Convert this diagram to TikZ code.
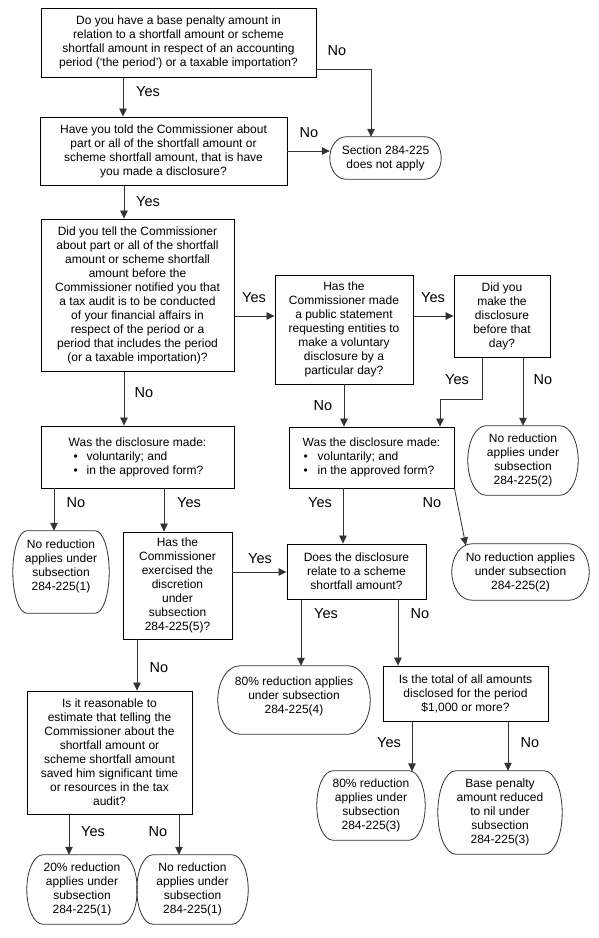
\documentclass[tikz,border=0pt]{standalone}
\usepackage{fontspec}
\setmainfont{Liberation Sans}
\usetikzlibrary{arrows.meta,calc}
\newcommand\termdraw[2]{%
  \draw[termline] let \p1=(#1.north west), \p2=(#1.south east), \n1={(\y1-\y2)/2} in
    (\x1+#2pt,\y1) -- (\x2-#2pt,\y1)
    arc[start angle=90,end angle=-90,x radius=#2pt,y radius=\n1]
    -- (\x1+#2pt,\y2)
    arc[start angle=270,end angle=90,x radius=#2pt,y radius=\n1] -- cycle;}
\begin{document}
\begin{tikzpicture}[x=1pt,y=-1pt,
  box/.style={draw=black, line width=0.9pt, inner sep=0pt, align=center, font=\fontsize{12}{14}\selectfont},
  term/.style={inner sep=0pt, align=center, font=\fontsize{12}{14}\selectfont},
  termline/.style={draw=black!80, line width=0.8pt},
  conn/.style={draw=black!80, line width=0.8pt, -{Triangle[length=8pt,width=7.5pt]}},
  lab/.style={inner sep=0pt, font=\fontsize{14.5}{17}\selectfont},
  wh/.style 2 args={minimum width=#1pt, minimum height=#2pt}]
\fill[white] (0,0) rectangle (599,938);
\useasboundingbox (0,0) rectangle (599,938);

% decision boxes
\node[box, wh={275}{69}] (A) at (178.5,42.5) {Do you have a base penalty amount in\\relation to a shortfall amount or scheme\\shortfall amount in respect of an accounting\\period (‘the period’) or a taxable importation?};
\node[box, wh={247}{68}] (B) at (163.5,151) {Have you told the Commissioner about\\part or all of the shortfall amount or\\scheme shortfall amount, that is have\\you made a disclosure?};
\node[box, wh={193}{152}] (C) at (137.5,295) {Did you tell the Commissioner\\about part or all of the shortfall\\amount or scheme shortfall\\amount before the\\Commissioner notified you that\\a tax audit is to be conducted\\of your financial affairs in\\respect of the period or a\\period that includes the period\\(or a taxable importation)?};
\node[box, wh={138}{109}] (D) at (344,329.5) {Has the\\Commissioner made\\a public statement\\requesting entities to\\make a voluntary\\disclosure by a\\particular day?};
\node[box, wh={96}{82}] (E) at (502,316) {Did you\\make the\\disclosure\\before that\\day?};
\node[box, wh={193}{62}, align=left] (F) at (137.5,457) {Was the disclosure made:\\\hspace*{5pt}\makebox[13pt][l]{\textbullet}voluntarily; and\\\hspace*{5pt}\makebox[13pt][l]{\textbullet}in the approved form?};
\node[box, wh={165}{61}, align=left] (G) at (371.5,457.5) {Was the disclosure made:\\\hspace*{1pt}\makebox[14pt][l]{\textbullet}voluntarily; and\\\hspace*{1pt}\makebox[14pt][l]{\textbullet}in the approved form?};
\node[box, wh={109}{107}] (H) at (177.5,585.5) {Has the\\Commissioner\\exercised the\\discretion\\under\\subsection\\284-225(5)?};
\node[box, wh={139}{55}] (I) at (356.5,571.5) {Does the disclosure\\relate to a scheme\\shortfall amount?};
\node[box, wh={165}{55}] (J) at (465.5,693.5) {Is the total of all amounts\\disclosed for the period\\\$1,000 or more?};
\node[box, wh={165}{123}] (K) at (109.5,752.5) {Is it reasonable to\\estimate that telling the\\Commissioner about the\\shortfall amount or\\scheme shortfall amount\\saved him significant time\\or resources in the tax\\audit?};

% terminals
\node[term, wh={111}{42}] (S) at (385.5,158) {Section 284-225\\does not apply};
\node[term, wh={110}{69}] (T2) at (523,460.5) {No reduction\\applies under\\subsection\\284-225(2)};
\node[term, wh={96}{82}] (T1) at (61,572) {No reduction\\applies under\\subsection\\284-225(1)\\\mbox{}};
\node[term, wh={137}{56}] (T3) at (520.5,572) {No reduction applies\\under subsection\\284-225(2)};
\node[term, wh={152}{68}] (T4) at (294,700) {80\% reduction applies\\under subsection\\284-225(4)\\[-4pt]\mbox{}};
\node[term, wh={108}{69}] (T5) at (371,805.5) {80\% reduction\\applies under\\subsection\\284-225(3)};
\node[term, wh={124}{83}] (T6) at (500,812.5) {Base penalty\\amount reduced\\to nil under\\subsection\\284-225(3)};
\node[term, wh={110}{69}] (T7) at (82,889.5) {20\% reduction\\applies under\\subsection\\284-225(1)};
\node[term, wh={111}{69}] (T8) at (192.5,889.5) {No reduction\\applies under\\subsection\\284-225(1)};
\termdraw{S}{16}
\termdraw{T2}{18}
\termdraw{T1}{14}
\termdraw{T3}{20}
\termdraw{T4}{22}
\termdraw{T5}{16}
\termdraw{T6}{18}
\termdraw{T7}{16}
\termdraw{T8}{16}

% connector guide coordinates
\coordinate (p1) at (123,0);
\coordinate (p2) at (371,69);
\coordinate (p3) at (0,151);
\coordinate (p4) at (124,0);
\coordinate (p5) at (0,316);
\coordinate (p6) at (344,0);
\coordinate (p7) at (482,399);
\coordinate (p8) at (440,399);
\coordinate (p9) at (523,0);
\coordinate (p10) at (54,0);
\coordinate (p11) at (164,0);
\coordinate (p12) at (343,0);
\coordinate (p13) at (0,572);
\coordinate (p14) at (137,0);
\coordinate (p15) at (301,0);
\coordinate (p16) at (398,0);
\coordinate (p17) at (412,0);
\coordinate (p18) at (508,0);
\coordinate (p19) at (69,0);
\coordinate (p20) at (179,0);

% connectors
\draw[conn] (A.south -| p1) -- (B.north -| p1);
\draw[conn] (A.east |- p2) -| (S.north -| p2);
\draw[conn] (B.east |- p3) -- (S.west |- p3);
\draw[conn] (B.south -| p4) -- (C.north -| p4);
\draw[conn] (C.south -| p4) -- (F.north -| p4);
\draw[conn] (C.east |- p5) -- (D.west |- p5);
\draw[conn] (D.east |- p5) -- (E.west |- p5);
\draw[conn] (D.south -| p6) -- (G.north -| p6);
\draw[conn] (E.south -| p7) -- (p7) -- (p8) -- (G.north -| p8);
\draw[conn] (E.south -| p9) -- (T2.north -| p9);
\draw[conn] (F.south -| p10) -- (T1.north -| p10);
\draw[conn] (F.south -| p11) -- (H.north -| p11);
\draw[conn] (G.south -| p12) -- (I.north -| p12);
\draw[conn] (G.south east) -- ($(T3.north west)+(14,1.5)$);
\draw[conn] (H.east |- p13) -- (I.west |- p13);
\draw[conn] (H.south -| p14) -- (K.north -| p14);
\draw[conn] (I.south -| p15) -- (T4.north -| p15);
\draw[conn] (I.south -| p16) -- (J.north -| p16);
\draw[conn] (J.south -| p17) -- ($(T5.north -| p17)+(0,0.6)$);
\draw[conn] (J.south -| p18) -- (T6.north -| p18);
\draw[conn] (K.south -| p19) -- (T7.north -| p19);
\draw[conn] (K.south -| p20) -- (T8.north -| p20);

% labels
\node[lab] (l1) at (148,92) {Yes};
\node[lab] (l2) at (337,51) {No};
\node[lab] (l3) at (309,133) {No};
\node[lab] (l4) at (148,202) {Yes};
\node[lab] (l5) at (254,298) {Yes};
\node[lab] (l6) at (433,298) {Yes};
\node[lab] (l7) at (144,393) {No};
\node[lab] (l8) at (323,406) {No};
\node[lab] (l9) at (457,380) {Yes};
\node[lab] (l10) at (543,380) {No};
\node[lab] (l11) at (76,503) {No};
\node[lab] (l12) at (189,503) {Yes};
\node[lab] (l13) at (320,503) {Yes};
\node[lab] (l14) at (432,503) {No};
\node[lab] (l15) at (260,559) {Yes};
\node[lab] (l16) at (159,668) {No};
\node[lab] (l17) at (326,614) {Yes};
\node[lab] (l18) at (420,614) {No};
\node[lab] (l19) at (389,743) {Yes};
\node[lab] (l20) at (530,743) {No};
\node[lab] (l21) at (93,832) {Yes};
\node[lab] (l22) at (158,832) {No};
\end{tikzpicture}
\end{document}
